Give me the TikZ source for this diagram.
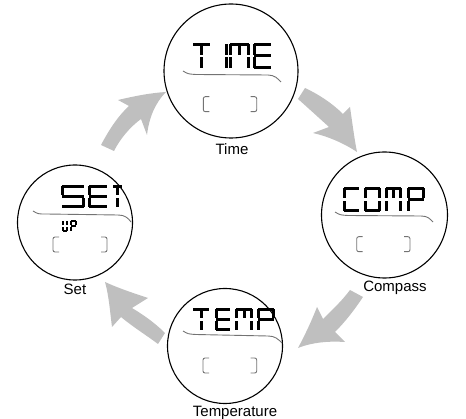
\documentclass[tikz,border=0pt]{standalone}
\usepackage{fontspec}
\setmainfont{Liberation Sans}
\begin{document}
\begin{tikzpicture}[x=1pt,y=-1pt,
  disp/.style={circle,draw=black,line width=1.1pt,inner sep=0pt},
  lcd/.style={fill=black},
  dline/.style={draw=black!55,line width=0.9pt},
  brk/.style={draw=black!55,line width=0.9pt,rounded corners=2pt},
  arr/.style={fill=black!25!gray!40,draw=none},
  lab/.style={font=\fontsize{15}{18}\selectfont,anchor=base,inner sep=0pt}]
\def\lcdH{23}\def\lcdG{1.2}\def\lcdT{3}
\newcommand\lcdsa{\fill[lcd] (\lcdG,0) rectangle ({\lcdW-\lcdG},\lcdT);}
\newcommand\lcdsb{\fill[lcd] ({\lcdW-\lcdT},\lcdG) rectangle (\lcdW,{\lcdH/2-\lcdG});}
\newcommand\lcdsc{\fill[lcd] ({\lcdW-\lcdT},{\lcdH/2+\lcdG}) rectangle (\lcdW,{\lcdH-\lcdG});}
\newcommand\lcdsd{\fill[lcd] (\lcdG,{\lcdH-\lcdT}) rectangle ({\lcdW-\lcdG},\lcdH);}
\newcommand\lcdse{\fill[lcd] (0,{\lcdH/2+\lcdG}) rectangle (\lcdT,{\lcdH-\lcdG});}
\newcommand\lcdsf{\fill[lcd] (0,\lcdG) rectangle (\lcdT,{\lcdH/2-\lcdG});}
\newcommand\lcdsg{\fill[lcd] (\lcdG,{\lcdH/2-\lcdT/2}) rectangle ({\lcdW-\lcdG},{\lcdH/2+\lcdT/2});}
\newcommand\lcdsi{\fill[lcd] ({\lcdW/2-\lcdT/2},\lcdG) rectangle ({\lcdW/2+\lcdT/2},{\lcdH/2-\lcdG});}
\newcommand\lcdsj{\fill[lcd] ({\lcdW/2-\lcdT/2},{\lcdH/2+\lcdG}) rectangle ({\lcdW/2+\lcdT/2},{\lcdH-\lcdG});}
\newcommand\lcdchar[4]{\def\lcdW{#3}\begin{scope}[shift={(#1,#2)}]\foreach \s in {#4}{\csname lcds\s\endcsname}\end{scope}}
\newcommand\brackets[4]{%
  \draw[brk] ({#1+6},#3) -| (#1,#4) -- ({#1+6},#4);
  \draw[brk] ({#2-6},#3) -| (#2,#4) -- ({#2-6},#4);}
\useasboundingbox (0,0) rectangle (466,419);
% circles
\node[disp,minimum size=134pt] (time) at (231,71) {};
\node[disp,minimum size=126pt] (comp) at (384.5,215) {};
\node[disp,minimum size=115pt] (temp) at (225,346) {};
\node[disp,minimum size=115pt] (set) at (75,222.5) {};
% labels
\node[lab] (ltime) at (232,155) {Time};
\node[lab] (lcomp) at (395,292) {Compass};
\node[lab] (ltemp) at (235,417) {Temperature};
\node[lab] (lset) at (75,295) {Set};
% arrows
\fill[arr] (101,145) .. controls (110,128) and (119,115) .. (129,106) -- (118,100)
  .. controls (135,96) and (150,93) .. (166,92) .. controls (155,103) and (149,118) .. (147,135)
  -- (141,119) .. controls (130,127) and (120,139) .. (114,151) -- cycle;
\fill[arr] (305,88) .. controls (318,94) and (332,103) .. (343,114) -- (350,107)
  .. controls (352,120) and (354,137) .. (357,152) .. controls (342,142) and (326,136) .. (313,133)
  -- (329,127) .. controls (318,117) and (307,107) .. (298,99) -- cycle;
\fill[arr] (350,290) .. controls (341,302) and (331,311) .. (323,319) -- (317,307)
  .. controls (312,320) and (305,335) .. (298,348) .. controls (313,342) and (330,341) .. (345,342)
  -- (335,332) .. controls (346,321) and (355,309) .. (363,297) -- cycle;
\fill[arr] (165,333) .. controls (154,322) and (142,314) .. (132,308) -- (148,298)
  .. controls (133,293) and (118,288) .. (105,282) .. controls (109,296) and (110,312) .. (112,327)
  -- (121,317) .. controls (133,327) and (146,335) .. (158,344) -- cycle;
% TIME display
\def\lcdH{26}
\lcdchar{192}{43}{19}{a,i,j}
\lcdchar{224.5}{43}{3}{f,e}
\lcdchar{229}{43}{21}{a,b,c,e,f,i}
\lcdchar{253}{43}{19}{a,f,g,e,d}
\draw[dline] (183,71) .. controls (188,74) .. (196,74.5) -- (268,75) .. controls (275,75) and (278,79) .. (281,82);
\brackets{203.3}{256.7}{96.7}{111.7}
% COMP display
\def\lcdH{25}
\lcdchar{343}{187}{17}{a,f,e,d}
\lcdchar{364}{187}{17}{a,b,c,d,e,f}
\lcdchar{385}{187}{17}{a,b,c,e,f,i}
\lcdchar{407}{187}{18}{a,b,f,e,g}
\draw[dline] (335,212) .. controls (340,215) .. (348,215.5) -- (421,216) .. controls (428,216) and (430,219) .. (433,222);
\brackets{356.7}{410}{236.7}{251.7}
% TEMP display
\def\lcdH{23}
\lcdchar{192}{308}{18}{a,i,j}
\lcdchar{215}{308}{16}{a,f,g,e,d}
\lcdchar{235}{308}{18}{a,b,c,e,f,i}
\lcdchar{257}{308}{18}{a,b,f,e,g}
\draw[dline] (183,331) .. controls (188,334) .. (196,334.5) -- (268,336) .. controls (275,336) and (278,339) .. (282,343);
\brackets{203}{256.7}{358}{373}
% SET display
\def\lcdH{23}\def\lcdT{3.3}
\lcdchar{61}{185}{24}{a,f,g,c,d}
\lcdchar{88}{185}{20}{a,f,g,e,d}
\lcdchar{112}{185}{11}{a,i,j}
\draw[dline] (33,211) .. controls (38,214) .. (46,214) -- (118,215) .. controls (125,215) and (128,218) .. (131,222);
\def\lcdH{12}\def\lcdG{0.6}\def\lcdT{1.7}
\lcdchar{62}{220}{6}{b,c,d,e,f}
\lcdchar{70}{220}{7}{a,b,f,e,g}
\brackets{53}{107}{237}{252}
\end{tikzpicture}
\end{document}
